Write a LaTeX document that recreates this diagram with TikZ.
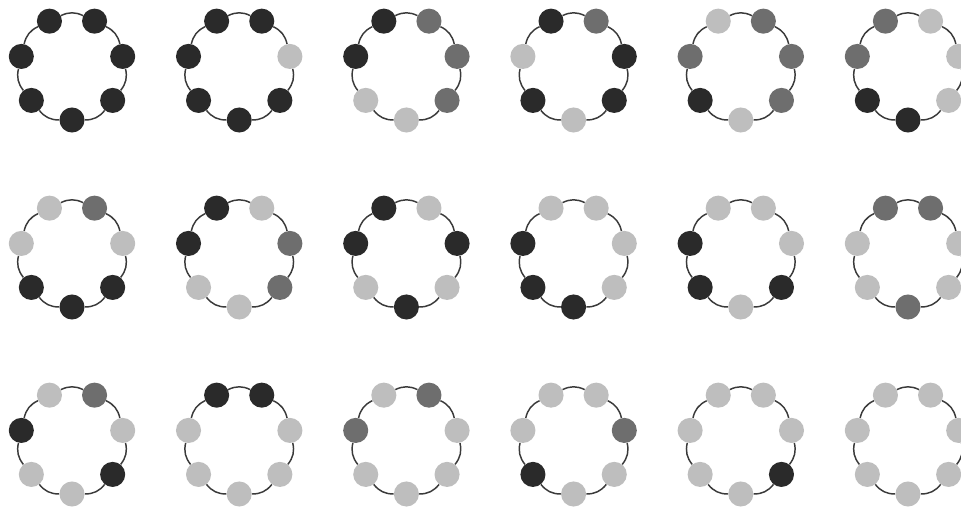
\documentclass[tikz,border=0pt]{standalone}
\usetikzlibrary{positioning}

\definecolor{beadd}{HTML}{2A2A2A}
\definecolor{beadm}{HTML}{6E6E6E}
\definecolor{beadl}{HTML}{BEBEBE}
\definecolor{ringline}{HTML}{3A3A3A}

\tikzset{
  bead/.style={circle, inner sep=0pt, minimum size=18.8pt, draw=none},
  ring/.style={line width=1.1pt, ringline},
}

% #1 name, #2 #3 centre, #4 seven shades from the bottom bead, counter-clockwise
\newcommand{\beadring}[4]{%
  \foreach \c [count=\k] in {#4} {
    \node[bead, fill=bead\c] (#1-\k)
      at ({#2+52*cos(-90+(\k-1)*360/7)}, {#3+52*sin(-90+(\k-1)*360/7)}) {};
  }
  \foreach \k [evaluate=\k as \j using {int(mod(\k,7)+1)}] in {1,...,7}
    \draw[ring] (#1-\k) to[bend right=25.7] (#1-\j);
}

\begin{document}
\begin{tikzpicture}[x=0.75pt, y=0.75pt]
    \useasboundingbox (0,0) rectangle (961,507);
    \clip (0,0) rectangle (961,507);
    \fill[white] (0,0) rectangle (961,507);

    % top row
    \beadring{a1}{72}{439}{d,d,d,d,d,d,d}
    \beadring{a2}{239.2}{439}{d,d,l,d,d,d,d}
    \beadring{a3}{406.4}{439}{l,m,m,m,d,d,l}
    \beadring{a4}{573.6}{439}{l,d,d,m,d,l,d}
    \beadring{a5}{740.8}{439}{l,m,m,m,l,m,d}
    \beadring{a6}{908}{439}{d,l,l,l,m,m,d}

    % middle row
    \beadring{b1}{72}{252}{d,d,l,m,l,l,d}
    \beadring{b2}{239.2}{252}{l,m,m,l,d,d,l}
    \beadring{b3}{406.4}{252}{d,l,d,l,d,d,l}
    \beadring{b4}{573.6}{252}{d,l,l,l,l,d,d}
    \beadring{b5}{740.8}{252}{l,d,l,l,l,d,d}
    \beadring{b6}{908}{252}{m,l,l,m,m,l,l}

    % bottom row
    \beadring{c1}{72}{65}{l,d,l,m,l,d,l}
    \beadring{c2}{239.2}{65}{l,l,l,d,d,l,l}
    \beadring{c3}{406.4}{65}{l,l,l,m,l,m,l}
    \beadring{c4}{573.6}{65}{l,l,m,l,l,l,d}
    \beadring{c5}{740.8}{65}{l,d,l,l,l,l,l}
    \beadring{c6}{908}{65}{l,l,l,l,l,l,l}
\end{tikzpicture}
\end{document}
